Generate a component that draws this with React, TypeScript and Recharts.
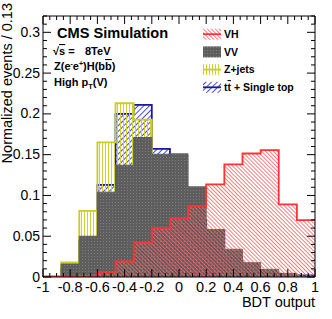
import React from 'react';
import { ComposedChart, Area, XAxis, YAxis, Legend } from 'recharts';

// Bin lower edges (15 bins, width 0.1333) and upper limit
const binLow = [-1, -0.8667, -0.7333, -0.6, -0.4667, -0.3333, -0.2, -0.0667, 0.0667, 0.2, 0.3333, 0.4667, 0.6, 0.7333, 0.8667];
const xMax = 1;

// Normalized events per bin
const vh = [0.0005, 0.0005, 0.0015, 0.0057, 0.019, 0.042, 0.0596, 0.072, 0.087, 0.1135, 0.138, 0.1514, 0.1555, 0.089, 0.0698];
const vv = [0.001, 0.016, 0.05, 0.104, 0.137, 0.171, 0.1505, 0.151, 0.1105, 0.0575, 0.034, 0.0175, 0.0094, 0.0045, 0.001];
const zjets = [0, 0.018, 0.081, 0.165, 0.213, 0.193, 0.12, 0.09, 0.06, 0.035, 0.015, 0.007, 0.003, 0.001, 0];
const ttop = [0, 0.01, 0.045, 0.113, 0.2, 0.211, 0.157, 0.11, 0.07, 0.0575, 0.02, 0.005, 0.002, 0.001, 0.002];

// Axis tick labels
const xMajorValues = [-1, -0.8, -0.6, -0.4, -0.2, 0, 0.2, 0.4, 0.6, 0.8, 1];
const xMajorLabels = ['-1', '-0.8', '-0.6', '-0.4', '-0.2', '0', '0.2', '0.4', '0.6', '0.8', '1'];
const yMajorValues = [0, 0.05, 0.1, 0.15, 0.2, 0.25, 0.3];
const yMajorLabels = ['0', '0.05', '0.1', '0.15', '0.2', '0.25', '0.3'];
const xTicks = Array.from({ length: 41 }, (_, i) => Math.round((-1 + i * 0.05) * 1000) / 1000);
const yTicks = Array.from({ length: 33 }, (_, i) => Math.round(i * 0.01 * 1000) / 1000);

const data = [
  ...binLow.map((x, i) => ({ x, vh: vh[i], vv: vv[i], zj: zjets[i], tt: ttop[i] })),
  { x: xMax, vh: vh[vh.length - 1], vv: vv[vv.length - 1], zj: zjets[zjets.length - 1], tt: ttop[ttop.length - 1] },
];

const FONT = 'Liberation Sans, Arial, Helvetica, sans-serif';

const findLabel = (v: number, vals: number[], labels: string[]) => {
  const i = vals.findIndex((m) => Math.abs(m - v) < 1e-6);
  return i >= 0 ? labels[i] : null;
};

const XTickBottom = (p: any) => {
  const lab = findLabel(p.payload.value, xMajorValues, xMajorLabels);
  return (
    <g>
      <line x1={p.x} x2={p.x} y1={p.y} y2={p.y - (lab !== null ? 8 : 4)} stroke="#000" strokeWidth={1} />
      {lab !== null && (
        <text x={p.x} y={p.y + 15} textAnchor="middle" fontSize={14.5} fontFamily={FONT} fill="#000">
          {lab}
        </text>
      )}
    </g>
  );
};

const XTickTop = (p: any) => {
  const lab = findLabel(p.payload.value, xMajorValues, xMajorLabels);
  return <line x1={p.x} x2={p.x} y1={p.y} y2={p.y + (lab !== null ? 8 : 4)} stroke="#000" strokeWidth={1} />;
};

const YTickLeft = (p: any) => {
  const lab = findLabel(p.payload.value, yMajorValues, yMajorLabels);
  return (
    <g>
      <line x1={p.x} x2={p.x + (lab !== null ? 8 : 4)} y1={p.y} y2={p.y} stroke="#000" strokeWidth={1} />
      {lab !== null && (
        <text x={p.x - 3} y={p.y + 4.5} textAnchor="end" fontSize={14} fontFamily={FONT} fill="#000">
          {lab}
        </text>
      )}
    </g>
  );
};

const YTickRight = (p: any) => {
  const lab = findLabel(p.payload.value, yMajorValues, yMajorLabels);
  return <line x1={p.x} x2={p.x - (lab !== null ? 8 : 4)} y1={p.y} y2={p.y} stroke="#000" strokeWidth={1} />;
};

const Patterns = ({ prefix }: { prefix: string }) => (
  <defs>
    <pattern id={`${prefix}red`} width="2.8" height="2.8" patternUnits="userSpaceOnUse" patternTransform="rotate(45)">
      <rect x="0" y="0" width="2.8" height="0.8" fill="#ff6060" />
    </pattern>
    <pattern id={`${prefix}blue`} width="4" height="4" patternUnits="userSpaceOnUse" patternTransform="rotate(-45)">
      <rect x="0" y="0" width="4" height="1" fill="#4a4ad8" />
    </pattern>
    <pattern id={`${prefix}yellow`} width="3" height="3" patternUnits="userSpaceOnUse">
      <rect x="0" y="0" width="1" height="3" fill="#d0d030" />
    </pattern>
    <pattern id={`${prefix}grey`} width="3" height="3" patternUnits="userSpaceOnUse">
      <rect x="0" y="0" width="3" height="3" fill="#5e5e5e" />
      <rect x="1" y="1" width="1" height="1" fill="#7e7e7e" />
    </pattern>
  </defs>
);

const legendItems = [
  { name: 'VH', fill: 'lg-red', line: '#ff3333' },
  { name: 'VV', fill: 'lg-grey', line: null },
  { name: 'Z+jets', fill: 'lg-yellow', line: '#cccc22' },
  { name: 'tt', fill: 'lg-blue', line: '#1a1aa0' },
];

const LegendContent = () => (
  <svg width={120} height={72} style={{ display: 'block', overflow: 'visible' }}>
    <Patterns prefix="lg-" />
    {legendItems.map((it, i) => {
      const cy = 9.2 + i * 17.7;
      return (
        <g key={it.name}>
          <rect x={3} y={cy - 5.5} width={18} height={11} fill={`url(#${it.fill})`} />
          {it.line && <line x1={3} x2={21} y1={cy} y2={cy} stroke={it.line} strokeWidth={1.8} />}
          <text x={24} y={cy + 3.8} fontSize={10.5} fontWeight="bold" fontFamily={FONT} fill="#000">
            {it.name === 'tt' ? (
              <>
                t<tspan textDecoration="overline">t</tspan> + Single top
              </>
            ) : (
              it.name
            )}
          </text>
        </g>
      );
    })}
  </svg>
);

export default function App() {
  return (
    <div style={{ position: 'absolute', left: 0, top: 0, width: 332, height: 319, background: '#fff' }}>
      <ComposedChart width={332} height={319} data={data} margin={{ top: 0, right: 0, bottom: 0, left: 0 }}>
        <Patterns prefix="" />
        <Area
          type="stepAfter"
          dataKey="tt"
          name="tt + Single top"
          stroke="#1a1aa0"
          strokeWidth={1.8}
          fill="url(#blue)"
          fillOpacity={1}
          dot={false}
          activeDot={false}
          isAnimationActive={false}
        />
        <Area
          type="stepAfter"
          dataKey="zj"
          name="Z+jets"
          stroke="#cccc22"
          strokeWidth={1.8}
          fill="url(#yellow)"
          fillOpacity={1}
          dot={false}
          activeDot={false}
          isAnimationActive={false}
        />
        <Area
          type="stepAfter"
          dataKey="vv"
          name="VV"
          stroke="#5e5e5e"
          strokeWidth={1}
          fill="url(#grey)"
          fillOpacity={1}
          dot={false}
          activeDot={false}
          isAnimationActive={false}
        />
        <Area
          type="stepAfter"
          dataKey="vh"
          name="VH"
          stroke="#ff3333"
          strokeWidth={1.8}
          fill="url(#red)"
          fillOpacity={1}
          dot={false}
          activeDot={false}
          isAnimationActive={false}
        />
        <XAxis
          dataKey="x"
          type="number"
          domain={[-1, 1]}
          ticks={xTicks}
          interval={0}
          height={42}
          allowDataOverflow
          axisLine={{ stroke: '#000', strokeWidth: 1 }}
          tickLine={false}
          tickSize={0}
          tickMargin={0}
          tick={XTickBottom}
        />
        <XAxis
          xAxisId="top"
          orientation="top"
          dataKey="x"
          type="number"
          domain={[-1, 1]}
          ticks={xTicks}
          interval={0}
          height={16}
          allowDataOverflow
          axisLine={{ stroke: '#000', strokeWidth: 1 }}
          tickLine={false}
          tickSize={0}
          tickMargin={0}
          tick={XTickTop}
        />
        <YAxis
          type="number"
          domain={[0, 0.32]}
          ticks={yTicks}
          interval={0}
          width={43}
          allowDataOverflow
          axisLine={{ stroke: '#000', strokeWidth: 1 }}
          tickLine={false}
          tickSize={0}
          tickMargin={0}
          tick={YTickLeft}
        />
        <YAxis
          yAxisId="right"
          orientation="right"
          type="number"
          domain={[0, 0.32]}
          ticks={yTicks}
          interval={0}
          width={17}
          allowDataOverflow
          axisLine={{ stroke: '#000', strokeWidth: 1 }}
          tickLine={false}
          tickSize={0}
          tickMargin={0}
          tick={YTickRight}
        />
        <Legend
          layout="vertical"
          align="center"
          verticalAlign="middle"
          content={LegendContent}
          wrapperStyle={{ position: 'absolute', left: 200, top: 25, width: 120, height: 72 }}
        />
      </ComposedChart>
      <svg
        width={332}
        height={319}
        style={{ position: 'absolute', left: 0, top: 0, pointerEvents: 'none' }}
      >
        <text x={57} y={37.5} fontSize={14.6} fontWeight="bold" fontFamily={FONT} fill="#000">
          CMS Simulation
        </text>
        <text x={53} y={55} fontSize={11} fontWeight="bold" fontFamily={FONT} fill="#000">
          √<tspan textDecoration="overline">s</tspan> =<tspan x={85}>8TeV</tspan>
        </text>
        <text x={54} y={70} fontSize={11} fontWeight="bold" fontFamily={FONT} fill="#000">
          Z(e<tspan fontSize={7} dy={-4}>-</tspan>
          <tspan dy={4}>e</tspan>
          <tspan fontSize={7} dy={-4}>+</tspan>
          <tspan dy={4}>)H(b</tspan>
          <tspan textDecoration="overline">b</tspan>)
        </text>
        <text x={54} y={85.5} fontSize={11} fontWeight="bold" fontFamily={FONT} fill="#000">
          High p<tspan fontSize={7.5} dy={3}>T</tspan>
          <tspan dy={-3}>(V)</tspan>
        </text>
        <text
          transform="translate(12, 3) rotate(-90)"
          textAnchor="end"
          fontSize={14.5}
          fontFamily={FONT}
          fill="#000"
        >
          Normalized events / 0.13
        </text>
        <text x={315} y={307} textAnchor="end" fontSize={14.5} fontFamily={FONT} fill="#000">
          BDT output
        </text>
      </svg>
    </div>
  );
}
